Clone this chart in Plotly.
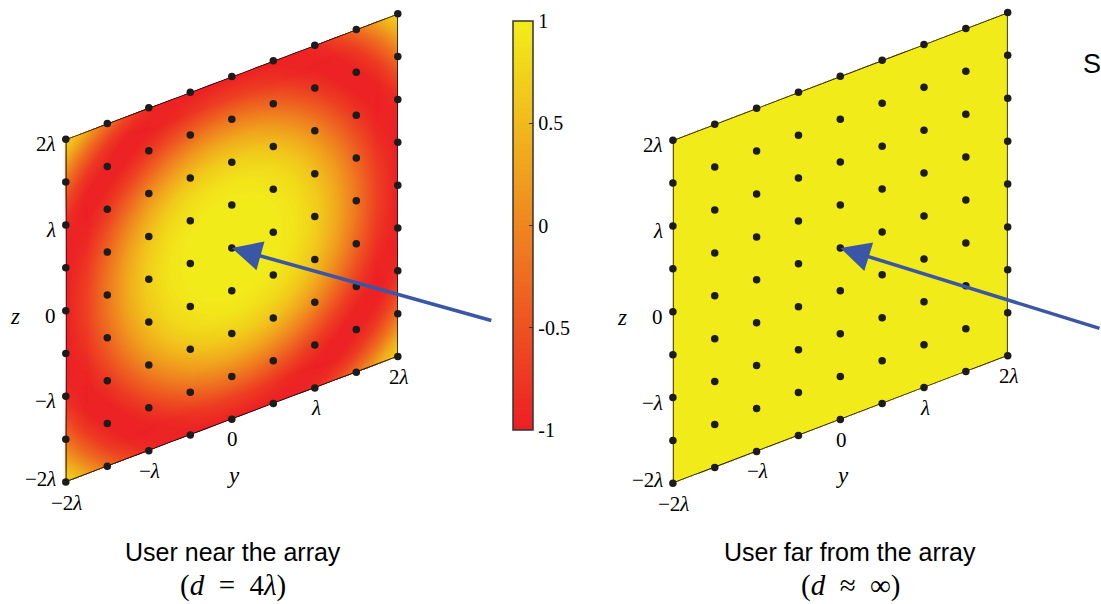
import numpy as np
import plotly.graph_objects as go

# ---------------- data (units of wavelength) ----------------
field_y = [-2.0, -1.75, -1.5, -1.25, -1.0, -0.75, -0.5, -0.25, 0.0,
           0.25, 0.5, 0.75, 1.0, 1.25, 1.5, 1.75, 2.0]
field_z = [-2.0, -1.75, -1.5, -1.25, -1.0, -0.75, -0.5, -0.25, 0.0,
           0.25, 0.5, 0.75, 1.0, 1.25, 1.5, 1.75, 2.0]

# normalised received phase (cos) across the array, user at d = 4 lambda
near_field = [
    [0.81, 0.32, -0.21, -0.62, -0.87, -0.98, -1.00, -0.99, -0.98, -0.99, -1.00, -0.98, -0.87, -0.62, -0.21, 0.32, 0.81],
    [0.32, -0.29, -0.74, -0.97, -0.99, -0.91, -0.79, -0.70, -0.67, -0.70, -0.79, -0.91, -0.99, -0.97, -0.74, -0.29, 0.32],
    [-0.21, -0.74, -0.98, -0.95, -0.76, -0.52, -0.32, -0.18, -0.14, -0.18, -0.32, -0.52, -0.76, -0.95, -0.98, -0.74, -0.21],
    [-0.62, -0.97, -0.95, -0.70, -0.36, -0.05, 0.18, 0.32, 0.36, 0.32, 0.18, -0.05, -0.36, -0.70, -0.95, -0.97, -0.62],
    [-0.87, -0.99, -0.76, -0.36, 0.05, 0.36, 0.57, 0.68, 0.72, 0.68, 0.57, 0.36, 0.05, -0.36, -0.76, -0.99, -0.87],
    [-0.98, -0.91, -0.52, -0.05, 0.36, 0.65, 0.81, 0.88, 0.91, 0.88, 0.81, 0.65, 0.36, -0.05, -0.52, -0.91, -0.98],
    [-1.00, -0.79, -0.32, 0.18, 0.57, 0.81, 0.92, 0.97, 0.98, 0.97, 0.92, 0.81, 0.57, 0.18, -0.32, -0.79, -1.00],
    [-0.99, -0.70, -0.18, 0.32, 0.68, 0.88, 0.97, 0.99, 1.00, 0.99, 0.97, 0.88, 0.68, 0.32, -0.18, -0.70, -0.99],
    [-0.98, -0.67, -0.14, 0.36, 0.72, 0.91, 0.98, 1.00, 1.00, 1.00, 0.98, 0.91, 0.72, 0.36, -0.14, -0.67, -0.98],
    [-0.99, -0.70, -0.18, 0.32, 0.68, 0.88, 0.97, 0.99, 1.00, 0.99, 0.97, 0.88, 0.68, 0.32, -0.18, -0.70, -0.99],
    [-1.00, -0.79, -0.32, 0.18, 0.57, 0.81, 0.92, 0.97, 0.98, 0.97, 0.92, 0.81, 0.57, 0.18, -0.32, -0.79, -1.00],
    [-0.98, -0.91, -0.52, -0.05, 0.36, 0.65, 0.81, 0.88, 0.91, 0.88, 0.81, 0.65, 0.36, -0.05, -0.52, -0.91, -0.98],
    [-0.87, -0.99, -0.76, -0.36, 0.05, 0.36, 0.57, 0.68, 0.72, 0.68, 0.57, 0.36, 0.05, -0.36, -0.76, -0.99, -0.87],
    [-0.62, -0.97, -0.95, -0.70, -0.36, -0.05, 0.18, 0.32, 0.36, 0.32, 0.18, -0.05, -0.36, -0.70, -0.95, -0.97, -0.62],
    [-0.21, -0.74, -0.98, -0.95, -0.76, -0.52, -0.32, -0.18, -0.14, -0.18, -0.32, -0.52, -0.76, -0.95, -0.98, -0.74, -0.21],
    [0.32, -0.29, -0.74, -0.97, -0.99, -0.91, -0.79, -0.70, -0.67, -0.70, -0.79, -0.91, -0.99, -0.97, -0.74, -0.29, 0.32],
    [0.81, 0.32, -0.21, -0.62, -0.87, -0.98, -1.00, -0.99, -0.98, -0.99, -1.00, -0.98, -0.87, -0.62, -0.21, 0.32, 0.81],
]
# user far away: plane wave, same phase everywhere
far_level = 1.0
far_field = [[far_level for _ in field_y] for _ in field_z]

# antenna element positions
antenna_y = [-2.0, -1.5, -1.0, -0.5, 0.0, 0.5, 1.0, 1.5, 2.0]
antenna_z = [-2.0, -1.5, -1.0, -0.5, 0.0, 0.5, 1.0, 1.5, 2.0]

tick_vals = [-2, -1, 0, 1, 2]
tick_text = ["\u22122<i>\u03bb</i>", "\u2212<i>\u03bb</i>", "0", "<i>\u03bb</i>", "2<i>\u03bb</i>"]

cbar_vals = [-1, -0.5, 0, 0.5, 1]
cbar_text = ["-1", "-0.5", "0", "0.5", "1"]

captions_top = ["User near the array", "User far from the array"]
captions_bottom = ["(<i>d</i>\u2002=\u20024<i>\u03bb</i>)", "(<i>d</i>\u2002\u2248\u2002\u221e)"]

# ---------------- styling / geometry ----------------
W, H = 1101, 604
RED = "rgb(236,30,36)"
YELLOW = "rgb(242,235,26)"
colorscale = [[0.0, RED], [1.0, YELLOW]]
SERIF = "Liberation Serif, DejaVu Serif, serif"
SANS = "Liberation Sans Narrow, Arial Narrow, Liberation Sans, Arial, sans-serif"
BLUE = "#3a56a6"
DOT = "#1c1c1c"

# panel projection settings (pixel centre, px per unit, shear of y axis)
panels = [
    dict(cx=231.8, cy=247.9, hx=83.0, hz=85.7, s=0.366, dom=[0.0, 0.5]),
    dict(cx=840.3, cy=247.9, hx=83.7, hz=85.8, s=0.372, dom=[0.5, 1.0]),
]
fields = [near_field, far_field]

fig = go.Figure()
annotations = []

for k, (p, field) in enumerate(zip(panels, fields)):
    n = "" if k == 0 else "2"
    xa, ya = "x" + n, "y" + n
    cid = f"plane{k}"
    s = p["s"]

    def proj(yv, zv, s=s):
        return yv, zv + s * yv

    A, B = np.meshgrid(field_y, field_z)
    PX, PY = proj(A, B)
    fig.add_trace(go.Carpet(
        carpet=cid, a=field_y, b=field_z, x=PX, y=PY, xaxis=xa, yaxis=ya,
        aaxis=dict(showgrid=False, showline=False, showticklabels="none",
                   startline=False, endline=False, minorgridcount=0),
        baxis=dict(showgrid=False, showline=False, showticklabels="none",
                   startline=False, endline=False, minorgridcount=0),
    ))
    cb = dict(
        x=513 / W, xanchor="left", y=1 - 225.5 / H, yanchor="middle",
        len=409 / H, lenmode="fraction", thickness=20, thicknessmode="pixels",
        outlinewidth=1.5, outlinecolor="#333", xpad=0, ypad=0,
        ticks="inside", ticklen=4, tickwidth=1, tickcolor="#333",
        tickvals=cbar_vals, ticktext=cbar_text,
        tickfont=dict(family=SERIF, size=20, color="black"),
    )
    fig.add_trace(go.Contourcarpet(
        carpet=cid, a=field_y, b=field_z, z=field, xaxis=xa, yaxis=ya,
        colorscale=colorscale, zmin=-1, zmax=1, autocontour=False,
        contours=dict(start=-1, end=0.995, size=0.025, coloring="fill", showlines=False),
        line=dict(width=0, smoothing=1), showscale=(k == 0), colorbar=cb,
    ))
    # plane boundary
    y0, y1 = antenna_y[0], antenna_y[-1]
    z0, z1 = antenna_z[0], antenna_z[-1]
    fig.add_trace(go.Scattercarpet(
        carpet=cid, a=[y0, y1, y1, y0, y0], b=[z0, z0, z1, z1, z0], xaxis=xa, yaxis=ya,
        mode="lines", line=dict(color="#111", width=1.6), hoverinfo="skip", showlegend=False,
    ))
    # antenna elements
    AY, AZ = np.meshgrid(antenna_y, antenna_z)
    fig.add_trace(go.Scattercarpet(
        carpet=cid, a=AY.ravel(), b=AZ.ravel(), xaxis=xa, yaxis=ya,
        mode="markers", marker=dict(size=7.5, color=DOT), showlegend=False,
    ))

    # tick labels
    for tv, tt in zip(tick_vals, tick_text):
        zx, zy = proj(y0, tv)
        annotations.append(dict(x=zx, y=zy, xref=xa, yref=ya, text=tt, showarrow=False,
                                xanchor="right", yanchor="middle", xshift=-8,
                                yshift=(3 if tv == tick_vals[0] else -5),
                                font=dict(family=SERIF, size=21, color="black")))
        yx, yy = proj(tv, z0)
        annotations.append(dict(x=yx, y=yy, xref=xa, yref=ya, text=tt, showarrow=False,
                                xanchor="center", yanchor="middle", xshift=1,
                                yshift=(-21 if tv == tick_vals[0] else -20),
                                font=dict(family=SERIF, size=21, color="black")))
    # axis titles
    tx, ty = proj(y0, 0)
    annotations.append(dict(x=tx, y=ty, xref=xa, yref=ya, text="<i>z</i>", showarrow=False,
                            xanchor="center", yanchor="middle", xshift=-51, yshift=-6,
                            font=dict(family=SERIF, size=23, color="black")))
    tx, ty = proj(0, z0)
    annotations.append(dict(x=tx, y=ty, xref=xa, yref=ya, text="<i>y</i>", showarrow=False,
                            xanchor="center", yanchor="middle", xshift=2, yshift=-56,
                            font=dict(family=SERIF, size=23, color="black")))
    # arrow from the user to the array centre
    cxp, cyp = proj(0, 0)
    annotations.append(dict(x=cxp, y=cyp, xref=xa, yref=ya, text="", showarrow=True,
                            ax=261 if k == 0 else 285, ay=73 if k == 0 else 81,
                            arrowhead=2, arrowsize=1.7, arrowwidth=3.5, arrowcolor=BLUE,
                            standoff=0))

    # captions
    capx = [233, 850][k]
    annotations.append(dict(x=capx / W, y=1 - 552 / H, xref="paper", yref="paper",
                            text=captions_top[k], showarrow=False, xanchor="center", yanchor="middle",
                            font=dict(family=SANS, size=25, color="black")))
    annotations.append(dict(x=capx / W, y=1 - 585 / H, xref="paper", yref="paper",
                            text=captions_bottom[k], showarrow=False, xanchor="center", yanchor="middle",
                            font=dict(family=SERIF, size=29, color="black")))

    # axes laid out so that the panel lands where it should
    d0, d1 = p["dom"]
    left_px, right_px = d0 * W, d1 * W
    xr = [(left_px - p["cx"]) / p["hx"], (right_px - p["cx"]) / p["hx"]]
    yr = [(p["cy"] - H) / p["hz"], p["cy"] / p["hz"]]
    fig.update_layout(**{
        ("xaxis" + n): dict(domain=[d0, d1], range=xr, visible=False, fixedrange=True),
        ("yaxis" + n): dict(domain=[0, 1], range=yr, visible=False, fixedrange=True),
    })

annotations.append(dict(x=1081 / W, y=1 - 64 / H, xref="paper", yref="paper", text="S",
                        showarrow=False, xanchor="left", yanchor="middle",
                        font=dict(family="Liberation Sans, Arial, sans-serif", size=27, color="black")))

fig.update_layout(
    width=W, height=H, autosize=False,
    margin=dict(l=0, r=0, t=0, b=0),
    paper_bgcolor="white", plot_bgcolor="rgba(0,0,0,0)",
    showlegend=False, annotations=annotations,
)

fig.write_html("out.html")
